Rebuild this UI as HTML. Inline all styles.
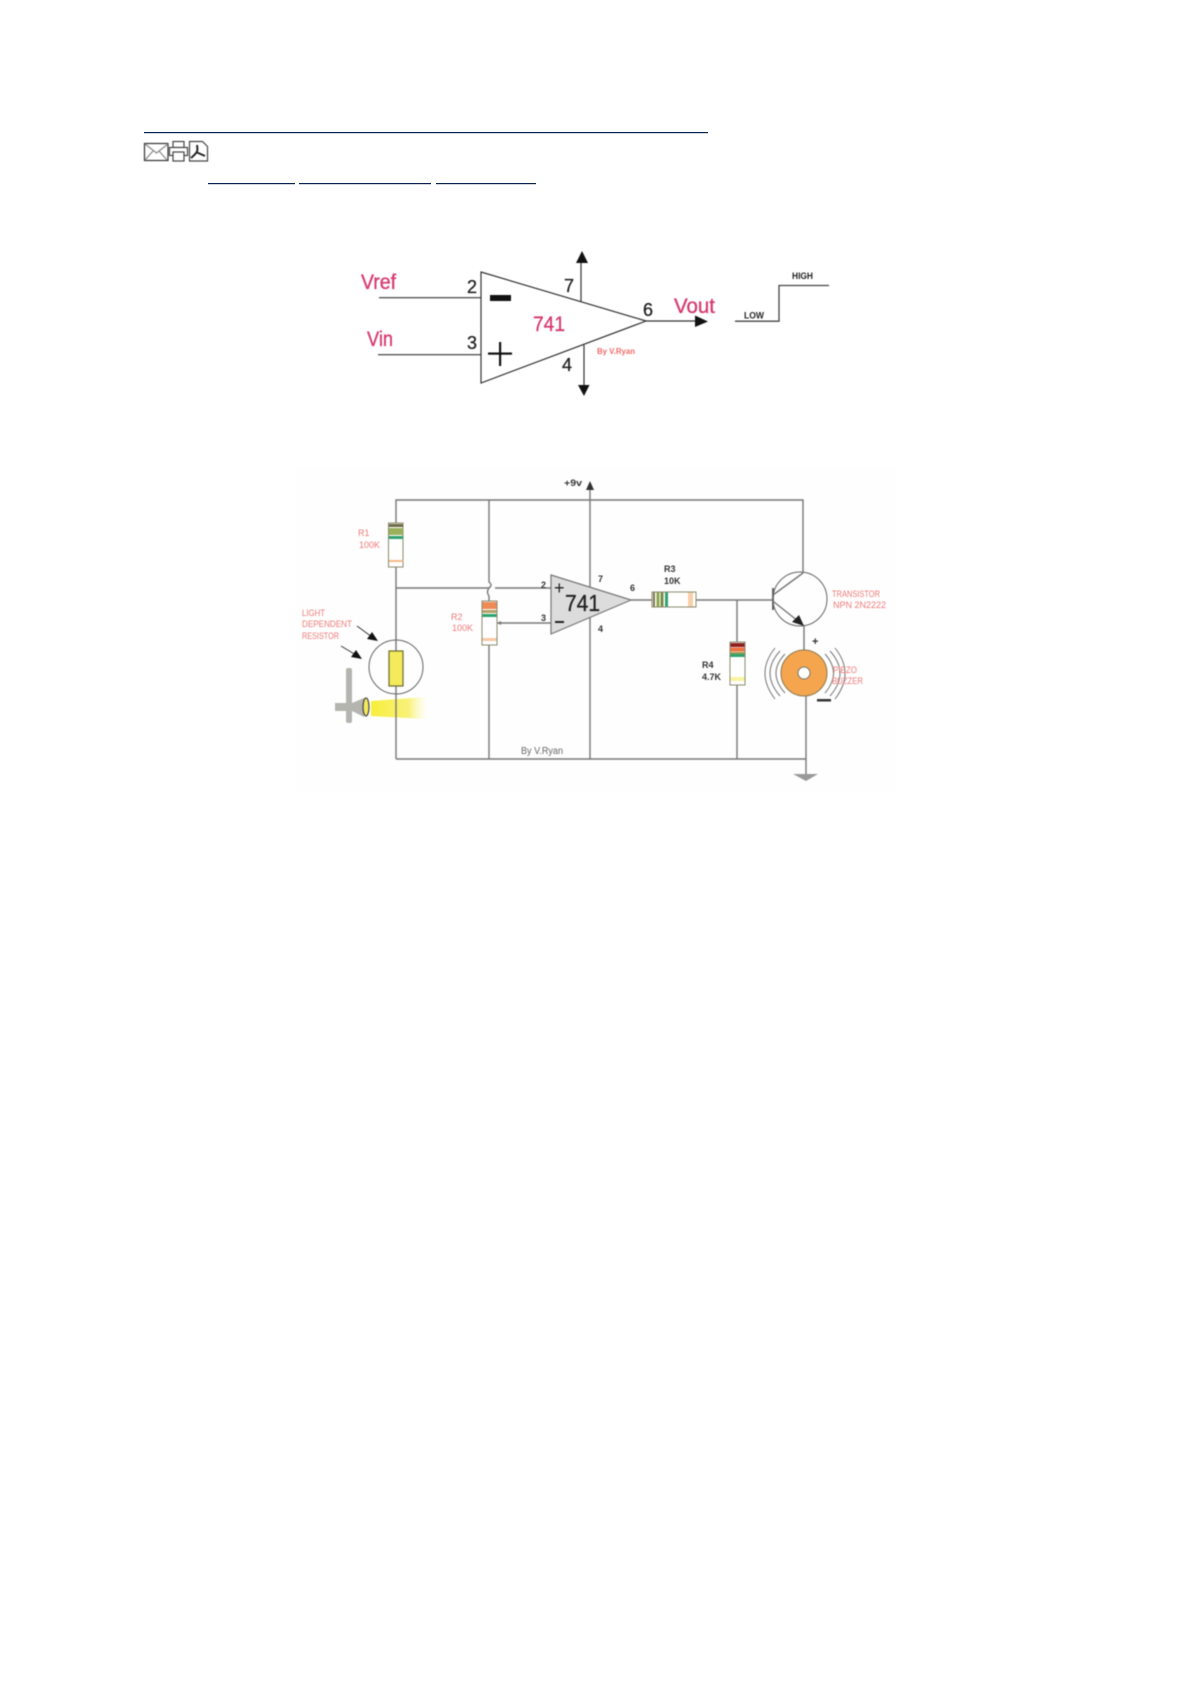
<!DOCTYPE html>
<html><head><meta charset="utf-8"><style>
html,body{margin:0;padding:0;background:#fff}
svg{display:block}
.bl{filter:blur(.45px)}
text{font-family:"Liberation Sans",sans-serif}
.p{fill:#d63a6e;stroke:#d63a6e;stroke-width:.35}.k{fill:#222;stroke:#222;stroke-width:.3}.r{fill:#ef7a7a;font-size:9px}.b{fill:#333;font-size:9px;font-weight:bold}
</style></head><body>
<svg width="1191" height="1685" viewBox="0 0 1191 1685" xmlns="http://www.w3.org/2000/svg">
<defs>
<linearGradient id="beam" x1="0" x2="1" y1="0" y2="0"><stop offset="0" stop-color="#f7ee3a"/><stop offset=".7" stop-color="#f9f27a"/><stop offset="1" stop-color="#fdfbd0" stop-opacity=".3"/></linearGradient>
</defs>
<rect width="1191" height="1685" fill="#fff"/>
<!-- header -->
<g fill="#0a2350">
<rect x="144" y="132" width="564" height="1.200"/>
<rect x="208" y="183" width="87" height="1.200"/><rect x="299" y="183" width="132" height="1.200"/><rect x="436" y="183" width="100" height="1.200"/>
</g>
<g fill="#fff" stroke="#444" stroke-width="1.200" class="bl">
<rect x="144.500" y="143.500" width="23.500" height="17" stroke="#333"/>
<path d="M145 144l11.500 9 11.500-9M145 160l8-9M167 160l-8-9" fill="none" stroke="#888"/>
<rect x="173" y="141.500" width="11" height="6"/><rect x="169.500" y="147.500" width="18" height="8"/><rect x="173" y="152" width="11" height="9"/>
<path d="M189.500 141.500h13l5 5v14.500h-18z"/>
<path d="M197 145c1 6 1 7-6 13M196 152l9 4" fill="none" stroke="#222" stroke-width="2"/>
</g>
<g class="bl">
<!-- op amp diagram -->
<g fill="none" stroke="#333" stroke-width="1.200">
<path d="M481 272L646 321L481 383Z"/>
<path d="M379 297.700H481M378 354.700H481M581 302V262M584 345V386M646 321H697"/>
<path d="M735 321.200H779V285.500H829" stroke="#444" stroke-width="1.300"/>
</g>
<g fill="#111">
<path d="M582 251l6 12h-12z"/><path d="M584 396l-6-11h11.500z"/><path d="M708 321.500l-13 5.500v-11.500z"/>
<rect x="490" y="295" width="21" height="6"/>
<rect x="488" y="352.500" width="24" height="2.200"/><rect x="499" y="342" width="2.200" height="24"/>
</g>
<g class="p">
<text x="361" y="289" font-size="21" textLength="35" lengthAdjust="spacingAndGlyphs">Vref</text>
<text x="367" y="346" font-size="21" textLength="26" lengthAdjust="spacingAndGlyphs">Vin</text>
<text x="533" y="331" font-size="21" textLength="32" lengthAdjust="spacingAndGlyphs">741</text>
<text x="674" y="313" font-size="21" textLength="41" lengthAdjust="spacingAndGlyphs">Vout</text>
</g>
<g class="k" font-size="18">
<text x="467" y="293">2</text><text x="467" y="349">3</text><text x="564" y="292">7</text><text x="562" y="371">4</text><text x="643" y="316">6</text>
</g>
<text x="597" y="354" font-size="8" font-weight="bold" fill="#f36a6a" textLength="38" lengthAdjust="spacingAndGlyphs">By V.Ryan</text>
<g font-size="9" font-weight="bold" fill="#222">
<text x="744" y="318.500" textLength="20" lengthAdjust="spacingAndGlyphs">LOW</text>
<text x="792" y="279" textLength="21" lengthAdjust="spacingAndGlyphs">HIGH</text>
</g>
<!-- circuit -->
<rect x="295" y="468" width="600" height="325" fill="#fefefe"/>
<path d="M371 701L425 697V719L371 716Z" fill="url(#beam)"/>
<g fill="none" stroke="#777" stroke-width="1.400">
<path d="M396 759V500H803V573M396 588H489M495 588H551M489 500V582Q493 585 489 588Q486 592 489 596V601M489 645V759M396 759H806M590 488V759"/>
<path d="M497 623H551M631 600H652M696 600H773M737 600V642M737 685V759M806 695V775M804 625V651"/>
<path d="M773 595L803 573M774 602L803 625"/>
<path d="M773 588V610" stroke="#555" stroke-width="1.800"/>
<circle cx="800" cy="599" r="27" stroke="#666" stroke-width="1"/>
<circle cx="396" cy="667" r="27" stroke="#666" stroke-width="1"/>
</g>
<path d="M586 490L590 481L594 490Z" fill="#333"/>
<path d="M804 626L792 622L799 615Z" fill="#222"/>
<path d="M497 623l4-2v4z" fill="#777"/>
<path d="M793 774H818L806 781Z" fill="#999"/>
<!-- op amp 2 -->
<path d="M551 575L631 600L551 634Z" fill="#dcdcdc" stroke="#777" stroke-width="1.200"/>
<text x="565" y="611" font-size="23" fill="#222" stroke="#222" stroke-width=".3" textLength="35" lengthAdjust="spacingAndGlyphs">741</text>
<text x="554" y="594" font-size="18" fill="#222">+</text>
<rect x="555" y="621" width="9" height="2" fill="#222"/>
<g font-size="9" font-weight="bold" fill="#333">
<text x="541" y="588">2</text><text x="541" y="621">3</text><text x="598" y="582">7</text><text x="598" y="632">4</text><text x="630" y="591">6</text>
<text x="564" y="486" textLength="18" lengthAdjust="spacingAndGlyphs">+9v</text>
</g>
<!-- R1 -->
<rect x="388.500" y="523" width="14.500" height="44" fill="#fff" stroke="#8a8a70"/>
<rect x="389" y="524" width="14" height="3" fill="#6d6a45"/><rect x="389" y="528" width="14" height="7" fill="#9cb05c"/><rect x="389" y="536" width="14" height="3" fill="#2fa36e"/><rect x="389" y="560" width="14" height="2" fill="#f4b98a"/>
<!-- R2 -->
<rect x="482" y="601" width="15" height="44" fill="#fff" stroke="#8a8a70"/>
<rect x="482.500" y="602" width="14" height="7" fill="#ee8a55"/><rect x="482.500" y="610" width="14" height="3" fill="#b5a066"/><rect x="482.500" y="614" width="14" height="3" fill="#2fa36e"/><rect x="482.500" y="638" width="14" height="3" fill="#f7c9a5"/>
<!-- R3 -->
<rect x="652" y="592" width="44" height="15" fill="#fff" stroke="#8a8a70"/>
<rect x="653" y="592.500" width="2" height="14" fill="#7a7a50"/><rect x="656.500" y="592.500" width="3" height="14" fill="#8ea64c"/><rect x="660.500" y="592.500" width="3" height="14" fill="#7d8a4a"/><rect x="665" y="592.500" width="3" height="14" fill="#2fa36e"/><rect x="688" y="592.500" width="5" height="14" fill="#f8cfa8"/>
<!-- R4 -->
<rect x="730" y="642" width="15" height="43" fill="#fff" stroke="#8a8a70"/>
<rect x="730.500" y="643" width="14" height="4" fill="#8f2020"/><rect x="730.500" y="647.500" width="14" height="4" fill="#ee7040"/><rect x="730.500" y="652" width="14" height="2" fill="#9a9a50"/><rect x="730.500" y="654" width="14" height="3" fill="#2fa36e"/><rect x="730.500" y="677" width="14" height="4" fill="#f8f5a0"/>
<!-- LDR -->
<rect x="389" y="651" width="14" height="35" fill="#f4ea5c" stroke="#6d6a30" stroke-width="1.200"/>
<!-- torch -->
<rect x="346" y="668" width="6" height="55" rx="2" fill="#b5b5b0"/>
<path d="M335 703H352L364 698V717L352 711H335Z" fill="#b5b5b0"/>
<ellipse cx="366" cy="707" rx="3" ry="9" fill="#f4ea5c" stroke="#444" stroke-width="1.200"/>
<!-- LDR arrows -->
<g stroke="#333" stroke-width="1" fill="#111">
<path d="M357 626L372 637" fill="none"/><path d="M378 641L367 639L372 632Z" stroke="none"/>
<path d="M341 646L356 655" fill="none"/><path d="M362 659L351 657L356 650Z" stroke="none"/>
</g>
<!-- buzzer arcs -->
<g fill="none" stroke="#777" stroke-width="1">
<path d="M775 648Q755 673 775 699M780 651Q760 673 780 696M785 654Q767 673 785 693"/>
<path d="M835 648Q855 673 835 699M830 651Q850 673 830 696M825 654Q842 673 825 693"/>
</g>
<circle cx="804" cy="673" r="23" fill="#f5a54e" stroke="#8a7a50" stroke-width="1"/>
<circle cx="804" cy="673" r="6" fill="#fff" stroke="#776" stroke-width="1"/>
<text x="812" y="645" font-size="11" font-weight="bold" fill="#333">+</text>
<rect x="817" y="699" width="14" height="2.500" fill="#333"/>
<!-- labels -->
<g class="r">
<text x="358" y="536">R1</text><text x="359" y="548" textLength="21" lengthAdjust="spacingAndGlyphs">100K</text>
<text x="451" y="620">R2</text><text x="452" y="631" textLength="21" lengthAdjust="spacingAndGlyphs">100K</text>
<text x="302" y="616" textLength="23" lengthAdjust="spacingAndGlyphs">LIGHT</text>
<text x="302" y="627" textLength="50" lengthAdjust="spacingAndGlyphs">DEPENDENT</text>
<text x="302" y="639" textLength="37" lengthAdjust="spacingAndGlyphs">RESISTOR</text>
<text x="832" y="597" textLength="48" lengthAdjust="spacingAndGlyphs">TRANSISTOR</text>
<text x="833" y="608" textLength="53" lengthAdjust="spacingAndGlyphs">NPN 2N2222</text>
<text x="833" y="673" textLength="24" lengthAdjust="spacingAndGlyphs">PIEZO</text>
<text x="832" y="684" textLength="31" lengthAdjust="spacingAndGlyphs">BUZZER</text>
</g>
<g class="b">
<text x="664" y="572">R3</text><text x="664" y="584">10K</text>
<text x="702" y="668">R4</text><text x="702" y="680">4.7K</text>
</g>
<text x="521" y="754" font-size="10" fill="#666" textLength="42" lengthAdjust="spacingAndGlyphs">By V.Ryan</text>
</g>
</svg>
</body></html>
